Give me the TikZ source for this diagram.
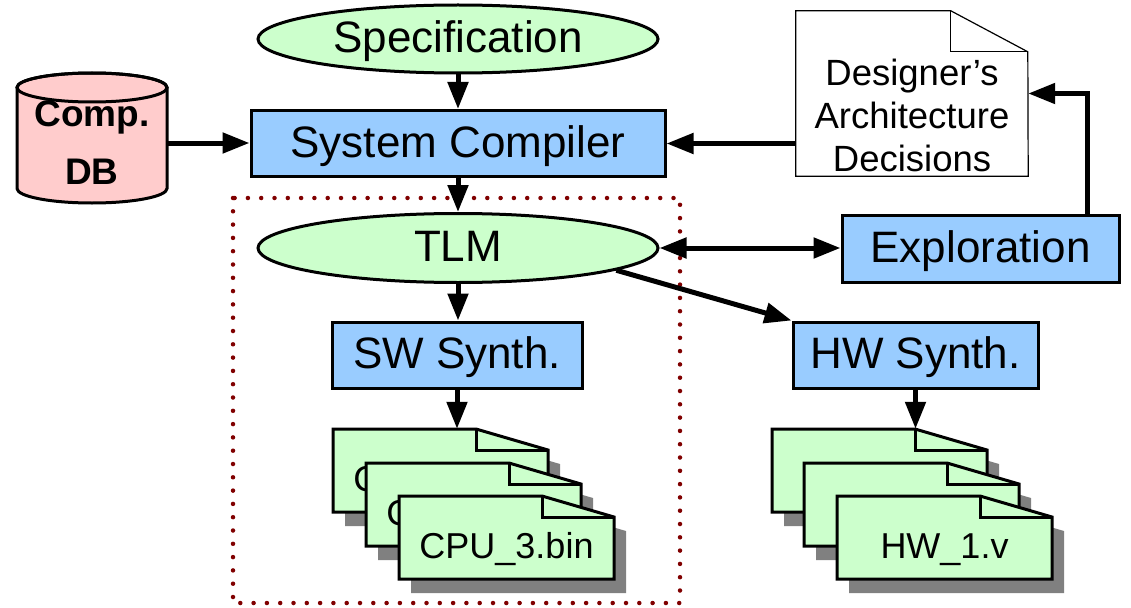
\documentclass[tikz,border=0pt]{standalone}
\usepackage{fontspec}
\setmainfont{Liberation Sans}
\usetikzlibrary{arrows.meta,shapes.geometric}

\definecolor{specgreen}{HTML}{CCFFCC}
\definecolor{toolblue}{HTML}{99CCFF}
\definecolor{dbpink}{HTML}{FFCCCC}
\definecolor{dropgray}{HTML}{808080}
\definecolor{groupred}{HTML}{800000}

\tikzset{
  model/.style={ellipse, draw, line width=3pt, fill=specgreen, inner sep=0pt,
    minimum width=400pt, minimum height=68pt,
    font=\fontsize{44}{50}\selectfont, text height=31pt, text depth=4pt},
  tool/.style={rectangle, draw, line width=3pt, fill=toolblue, inner sep=0pt,
    minimum height=66pt,
    font=\fontsize{44}{50}\selectfont, text height=31pt, text depth=4pt},
  conn/.style={line width=5pt, -{Triangle[length=27pt,width=20pt]}},
  biconn/.style={line width=5pt, {Triangle[length=27pt,width=20pt]}-{Triangle[length=27pt,width=20pt]}},
  sheetline/.style={line width=3pt, line join=miter},
  sheetbox/.style={rectangle, inner sep=0pt, minimum width=215pt, minimum height=83pt},
  sheettext/.style={font=\fontsize{36}{43}\selectfont, anchor=base, inner sep=0pt},
  groupframe/.style={groupred, line width=4.5pt, line cap=round, dash pattern=on 0pt off 13.3pt},
}

% dog-eared output file with a drop shadow; #1 name, #2/#3 top-left corner
\newcommand\sheet[3]{%
  \fill[dropgray] (#2+12,#3+14) -- ++(143,0) -- ++(72,21) -- ++(0,62) -- ++(-215,0) -- cycle;
  \draw[sheetline, fill=specgreen] (#2,#3) -- ++(143,0) -- ++(72,21) -- ++(0,62) -- ++(-215,0) -- cycle;
  \draw[sheetline] (#2+143,#3) -- ++(0,21) -- ++(72,0);
  \path (#2+107.5,#3+41.5) node[sheetbox] (#1) {};
}

\begin{document}
\begin{tikzpicture}[x=1pt, y=-1pt]
\useasboundingbox (0,0) rectangle (1131,607);

% group around the software path
\draw[groupframe] (233,198) rectangle (680,603);

% component database cylinder
\draw[line width=3pt, fill=dbpink] (17,87.5) -- (17,188.5)
  arc[start angle=180, end angle=360, x radius=75pt, y radius=14.5pt]
  -- (167,87.5)
  arc[start angle=0, end angle=180, x radius=75pt, y radius=14.5pt] -- cycle;
\draw[line width=3pt] (92,87.5) ellipse[x radius=75pt, y radius=14.5pt];
\node[align=center, inner sep=0pt, minimum width=150pt,
  font=\bfseries\fontsize{37}{58}\selectfont] (db) at (92,143) {Comp.\\DB};

% main flow
\node[model] (spec) at (458,39) {Specification};
\node[tool, minimum width=414pt] (sc) at (458,143.5) {System Compiler};
\node[model, minimum height=69pt] (tlm) at (458,248) {TLM};
\node[tool, minimum width=250pt] (sw) at (457,355) {SW Synth.};
\node[tool, minimum width=277pt, minimum height=67pt] (expl) at (980.5,248.5) {Exploration};
\node[tool, minimum width=245pt] (hw) at (915.5,355) {HW Synth.};

% architecture decisions document
\node[rectangle, inner sep=0pt, minimum width=232pt, minimum height=165pt] (dad) at (912,93.5) {};
\draw[line width=1.2pt, fill=white] (dad.north west) -- ++(155,0) -- ++(77,41)
  -- (dad.south east) -- (dad.south west) -- cycle;
\draw[line width=1.2pt] ([xshift=155pt]dad.north west) -- ++(0,41) -- ++(77,0);
\node[align=center, inner sep=0pt, font=\fontsize{36.5}{43}\selectfont] (dadtxt) at (912,115)
  {Designer’s\\Architecture\\Decisions};

% software binaries
\sheet{swA}{333}{429}
\node[sheettext] (swAtxt) at (440.5,491) {CPU\_1.bin};
\sheet{swB}{366}{463}
\node[sheettext] (swBtxt) at (473.5,525) {CPU\_2.bin};
\sheet{swC}{399}{496}
\node[sheettext] (swCtxt) at (506.5,558) {CPU\_3.bin};

% hardware descriptions
\sheet{hwA}{772}{429}
\sheet{hwB}{804}{463}
\sheet{hwC}{837}{496}
\node[sheettext] (hwCtxt) at (944.5,558) {HW\_1.v};

% connectors
\draw[conn] (spec.south) -- (sc.north);
\draw[conn] (db.east) -- (db.east -| sc.west);
\draw[conn] (dad.west |- sc.east) -- (sc.east);
\draw[conn] (sc.south) -- (tlm.north);
\draw[conn] (tlm.south) -- (tlm.south |- sw.north);
\draw[biconn] (tlm.east) -- (tlm.east -| expl.west);
\draw[conn] (tlm.-8) -- (hw.north west);
\draw[conn] ([xshift=106.5pt]expl.north) |- (dad.east);
\draw[conn] (sw.south) -- (sw.south |- swA.north);
\draw[conn] (hw.south) -- (hw.south |- hwA.north);
\end{tikzpicture}
\end{document}
